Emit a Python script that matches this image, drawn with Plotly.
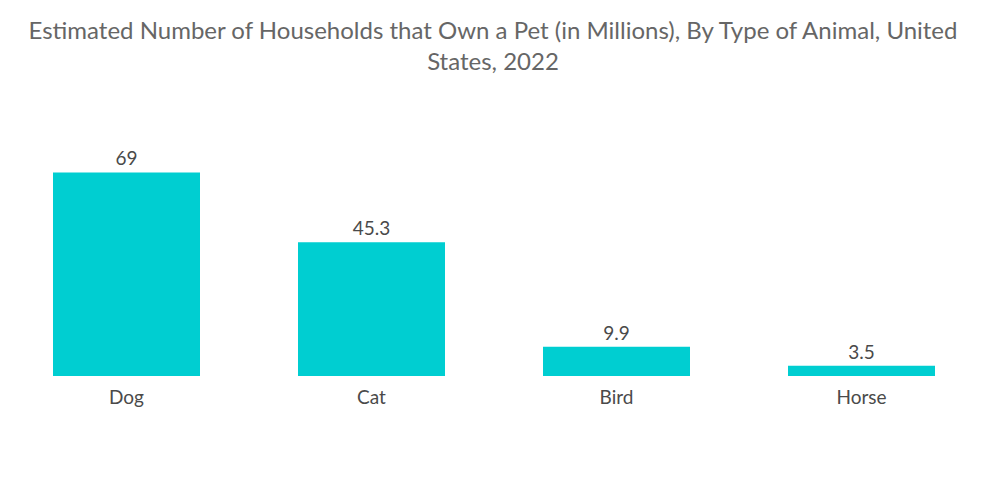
import plotly.graph_objects as go

categories = ["Dog", "Cat", "Bird", "Horse"]
values = [69, 45.3, 9.9, 3.5]
value_labels = ["69", "45.3", "9.9", "3.5"]
title_text = "Estimated Number of Households that Own a Pet (in Millions), By Type of Animal, United<br>States, 2022"

fig = go.Figure(go.Bar(
    x=categories, y=values, text=value_labels, textposition="outside",
    marker=dict(color="#00CED1", line=dict(width=0)),
    textfont=dict(family="Lato", size=19, color="#4a4a4a"),
    cliponaxis=False,
))

fig.update_layout(
    width=1000, height=504,
    paper_bgcolor="white", plot_bgcolor="white",
    margin=dict(l=4, r=16, t=140, b=128),
    bargap=0.4,
    showlegend=False,
    title=dict(text=title_text, x=0.493, xanchor="center", y=1 - 39 / 504, yanchor="middle",
               font=dict(family="Lato", size=24, color="#666666")),
    xaxis=dict(showgrid=False, showline=False, zeroline=False, ticks="outside",
               ticklen=4, tickcolor="rgba(0,0,0,0)",
               tickfont=dict(family="Lato", size=19, color="#4a4a4a")),
    yaxis=dict(visible=False, range=[0, 80]),
)

fig.write_html("out.html", config={"displayModeBar": False},
               post_script="document.body.style.margin='0px';")
